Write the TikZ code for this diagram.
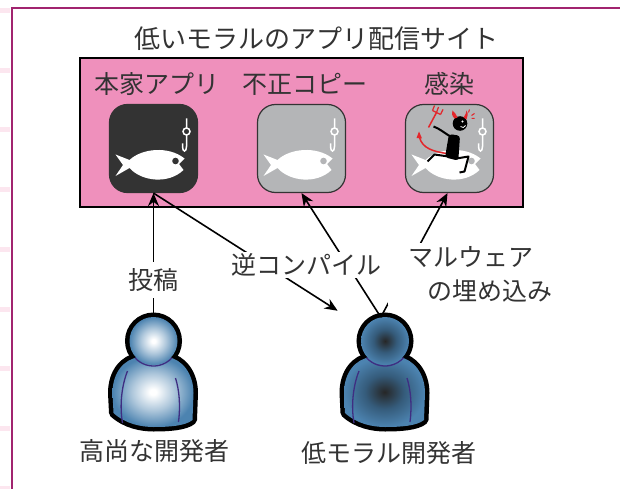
\documentclass[tikz,border=0pt]{standalone}
\usepackage{fontspec}
\usepackage{tikz}
\usetikzlibrary{arrows.meta}

\newfontfamily\jpfont{Noto Sans CJK JP}

\definecolor{framemag}{HTML}{A1246F}
\definecolor{tickpink}{HTML}{FCE6EF}
\definecolor{sitepink}{HTML}{EF90BC}
\definecolor{icondark}{HTML}{333333}
\definecolor{icongray}{HTML}{B4B5B7}
\definecolor{devblue}{HTML}{4C83B0}
\definecolor{devline}{HTML}{3F2E82}
\definecolor{devred}{HTML}{E3262B}
\definecolor{textgray}{HTML}{333333}

% shadings for the two developers
\pgfdeclareradialshading{devlight}{\pgfpoint{0bp}{0bp}}{color(0bp)=(white); color(2bp)=(white); color(13bp)=(devblue!45!white); color(25bp)=(devblue); color(50bp)=(devblue)}
\pgfdeclareradialshading{devdark}{\pgfpoint{0bp}{0bp}}{color(0bp)=(black!85); color(12bp)=(devblue!70!black); color(25bp)=(devblue); color(50bp)=(devblue)}

% fish with hook, drawn around the icon centre
\newcommand{\fishhook}[1]{%
  \fill[white] (-24,11.5) .. controls (-12,0) and (15,-3) .. (31,10) -- (25.5,15.5) -- (30,21.5)
    .. controls (15,36) and (-12,33) .. (-24,19.5) -- (-38,27.5) .. controls (-34,22) .. (-30.5,16.5)
    .. controls (-34,11) .. (-38,6) -- cycle;
  \fill[#1] (22,12.5) circle (3.3);
  \draw[white, line width=1.5pt] (33,-30) -- (33,-20.5) (33,-17) circle (3.5)
    (33,-13.5) -- (33,-2) .. controls (33,4) and (29,4) .. (29,-2) -- (29,-5);}

% developer figure: name, head centre, shading
\newcommand{\developer}[3]{%
  \begin{scope}[shift={#2}]
    \draw[line width=9pt] (0,0) circle (24);
    \draw[line width=9pt, line join=round] (-14,16) .. controls (-30,18) and (-41,32) .. (-41,52) -- (-40,72)
      .. controls (-28,83) and (-12,86) .. (0,86) .. controls (15,86) and (32,85) .. (39,79) -- (40,52)
      .. controls (40,32) and (28,18) .. (14,16) -- cycle;
    \shade[shading=#3] (-14,16) .. controls (-30,18) and (-41,32) .. (-41,52) -- (-40,72)
      .. controls (-28,83) and (-12,86) .. (0,86) .. controls (15,86) and (32,85) .. (39,79) -- (40,52)
      .. controls (40,32) and (28,18) .. (14,16) -- cycle;
    \node[circle, minimum size=48pt, inner sep=0pt, shade, shading=#3] (#1) at (0,0) {};
    \draw[devline, line width=1.3pt] (138:25) arc[start angle=138, end angle=42, radius=25];
    \draw[devline, line width=1.3pt] (-26,30) .. controls (-32,45) and (-34,65) .. (-31,82);
    \draw[devline, line width=1.3pt] (22,37) .. controls (26,50) and (27,65) .. (25,81);
  \end{scope}}

\begin{document}
\begin{tikzpicture}[x=1pt, y=-1pt, >={Stealth[length=13pt, width=11pt]},
  lbl/.style={font=\jpfont\fontsize{25}{34}\selectfont, text=textgray},
  icon/.style={draw=black!80, line width=1.2pt, rounded corners=18pt, minimum size=88pt, inner sep=0pt}]
  \useasboundingbox (0,0) rectangle (620,489);

  % page frame
  \foreach \t in {0,...,8}
    \fill[tickpink] (0,8+59.7*\t) rectangle (10,13+59.7*\t);
  \draw[framemag, line width=2pt] (12,495) -- (12,8) -- (625,8);

  \node[lbl, font=\jpfont\fontsize{26}{30}\selectfont] (title) at (316,39) {低いモラルのアプリ配信サイト};
  \node[draw, line width=1.5pt, fill=sitepink, minimum width=443pt, minimum height=149pt, inner sep=0pt] (site) at (301.5,132.5) {};

  \node[lbl] (origlbl) at (157,84) {本家アプリ};
  \node[lbl] (copylbl) at (305,84) {不正コピー};
  \node[lbl] (infectlbl) at (449,84) {感染};

  \node[icon, fill=icondark] (orig) at (153.5,148.5) {};
  \node[icon, fill=icongray] (copy) at (301.5,148.5) {};
  \node[icon, fill=icongray] (infect) at (449.5,148.5) {};

  \begin{scope}[shift={(orig.center)}]
    \fishhook{icondark}
  \end{scope}
  \begin{scope}[shift={(copy.center)}]
    \fishhook{icongray}
  \end{scope}
  \begin{scope}[shift={(infect.center)}]
    \fishhook{icongray}
    % devil riding the fish
    \draw[devred, line width=1.5pt] (-3,5) .. controls (-16,3) and (-27,0) .. (-30,-11);
    \fill[devred] (-30.5,-17) -- (-27.5,-10) -- (-33,-10.5) -- cycle;
    \draw[line width=2pt, line join=round] (-1,8) -- (-15,6) -- (-22,13);
    \draw[line width=2pt, line join=round] (7,10) -- (19,8) -- (15,23) -- (10,24);
    \fill[rounded corners=3pt] (-0.5,-14.5) -- (10.5,-12.8) -- (8.8,12.2) -- (-4.5,8.8) -- cycle;
    \draw[line width=2pt] (1,-12) .. controls (-6,-16) and (-10,-20) .. (-16,-22);
    \draw[devred, line width=1.5pt] (-21,-21) -- (-13,-36);
    \draw[devred, line width=1.2pt] (-17,-38) -- (-9,-34) (-17,-38) -- (-15,-43)
      (-13,-36) -- (-11,-41.5) (-9,-34) -- (-6.5,-39);
    \fill (10.5,-25) circle (7.3);
    \fill[devred] (5,-30) .. controls (2,-33) and (2,-36) .. (3,-38) .. controls (5,-36) and (7,-34) .. (8,-31) -- cycle;
    \fill[devred] (14,-31) .. controls (16,-34) and (17,-36) .. (17,-38) .. controls (19,-35) and (18,-32) .. (17,-29) -- cycle;
    \fill[white] (13,-27) circle (1.2);
    \draw[white, line width=0.8pt] (11,-22) .. controls (13,-20) and (15,-21) .. (16,-23);
    \draw[devred, line width=1pt] (19,-36) -- (20,-39) (22,-33) -- (25,-35) (22,-30) -- (25,-30);
  \end{scope}

  \developer{dev1}{(153.5,341)}{devlight}
  \developer{dev2}{(385,341)}{devdark}

  \node[lbl] (dev1lbl) at (154,451) {高尚な開発者};
  \node[lbl] (dev2lbl) at (389,453) {低モラル開発者};

  \draw[->, line width=1.6pt] (dev1.north) -- (orig.south);
  \draw[->, line width=1.6pt, shorten >=32pt] (orig.south) -- (dev2);
  \draw[->, line width=1.6pt] (dev2.100) -- (copy.south);
  \draw[->, line width=1.6pt] (dev2.100) -- ([xshift=-2pt]infect.south);

  \node[lbl, fill=white, inner sep=6pt] (post) at (153.5,280) {投稿};
  \node[lbl, fill=white, inner sep=2pt] (decomp) at (306,265) {逆コンパイル};
  \node[lbl, fill=white, align=left, inner xsep=20pt, inner ysep=3pt] (inject) at (480,274) {マルウェア\\\hspace{19pt}の埋め込み};
\end{tikzpicture}
\end{document}
